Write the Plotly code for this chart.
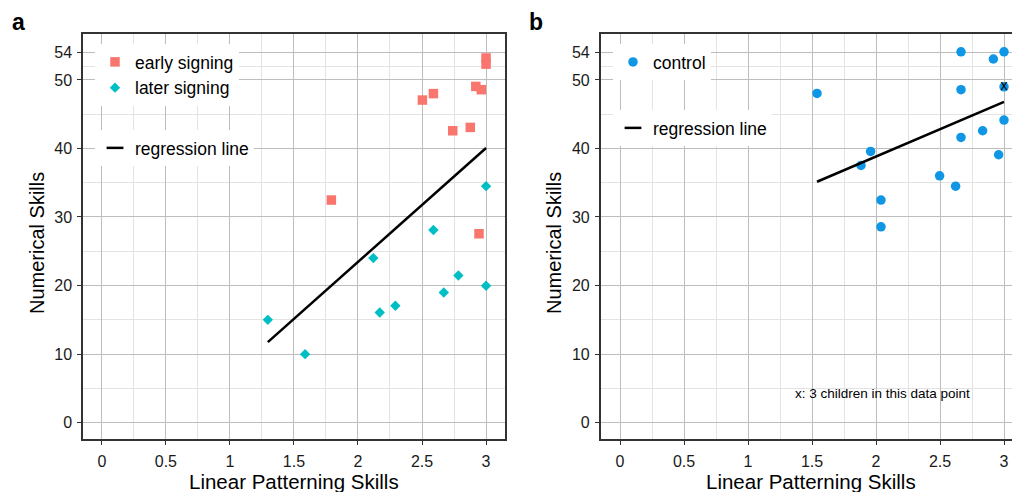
import plotly.graph_objects as go

# ---------------- data ----------------
early_x = [3.0, 3.0, 2.92, 2.963, 2.503, 2.589, 2.74, 2.877, 1.792, 2.945]
early_y = [53.2, 52.3, 49.05, 48.57, 47.06, 48.0, 42.58, 43.07, 32.47, 27.55]

later_x = [3.0, 2.589, 2.12, 2.784, 3.0, 2.67, 2.292, 2.17, 1.296, 1.587]
later_y = [34.5, 28.09, 24.0, 21.46, 19.96, 18.98, 17.04, 16.06, 14.99, 9.98]

reg_a_x = [1.296, 3.0]
reg_a_y = [11.74, 40.06]

control_x = [2.664, 3.0, 2.917, 1.539, 2.664, 3.0, 3.0, 2.833, 2.664, 1.958,
             1.883, 2.958, 2.497, 2.622, 2.039, 2.039]
control_y = [54.1, 54.1, 53.05, 48.03, 48.57, 49.0, 44.14, 42.58, 41.6, 39.56,
             37.52, 39.08, 36.0, 34.5, 32.46, 28.57]

reg_b_x = [1.539, 3.0]
reg_b_y = [35.14, 46.8]

multi_x = [3.0]
multi_y = [49.0]

x_ticks = [0, 0.5, 1, 1.5, 2, 2.5, 3]
x_ticktext = ["0", "0.5", "1", "1.5", "2", "2.5", "3"]
y_ticks = [0, 10, 20, 30, 40, 50, 54]
y_minor = [5, 15, 25, 35, 45, 52]

# ---------------- styling ----------------
FONT = "Liberation Sans, Arial, Helvetica, sans-serif"
RED = "#F8766D"
CYAN = "#00BFC4"
BLUE = "#0F97E5"
W, H = 1012, 492

fig = go.Figure()

# panel a
fig.add_trace(go.Scatter(x=early_x, y=early_y, mode="markers", name="early signing",
                         marker=dict(symbol="square", size=9.5, color=RED),
                         xaxis="x", yaxis="y", legend="legend"))
fig.add_trace(go.Scatter(x=later_x, y=later_y, mode="markers", name="later signing",
                         marker=dict(symbol="diamond", size=8, color=CYAN),
                         xaxis="x", yaxis="y", legend="legend"))
fig.add_trace(go.Scatter(x=reg_a_x, y=reg_a_y, mode="lines", showlegend=False,
                         line=dict(color="black", width=2.5), xaxis="x", yaxis="y"))
fig.add_trace(go.Scatter(x=[None], y=[None], mode="markers", name="regression line",
                         marker=dict(symbol="line-ew", size=12, color="black",
                                     line=dict(color="black", width=2.5)),
                         xaxis="x", yaxis="y", legend="legend2"))

# panel b
fig.add_trace(go.Scatter(x=control_x, y=control_y, mode="markers", name="control",
                         marker=dict(symbol="circle", size=9.5, color=BLUE),
                         xaxis="x2", yaxis="y2", legend="legend3"))
fig.add_trace(go.Scatter(x=reg_b_x, y=reg_b_y, mode="lines", showlegend=False,
                         line=dict(color="black", width=2.5), xaxis="x2", yaxis="y2"))
fig.add_trace(go.Scatter(x=[None], y=[None], mode="markers", name="regression line",
                         marker=dict(symbol="line-ew", size=12, color="black",
                                     line=dict(color="black", width=2.5)),
                         xaxis="x2", yaxis="y2", legend="legend4"))
fig.add_trace(go.Scatter(x=multi_x, y=multi_y, mode="text", text=["x"], showlegend=False,
                         textfont=dict(family=FONT, size=14, color="black"),
                         xaxis="x2", yaxis="y2"))

def px_x(p):
    return p / W

def px_y(p):
    return 1 - p / H

ydom = [px_y(439), px_y(34)]

common_x = dict(
    tickvals=x_ticks, ticktext=x_ticktext,
    showgrid=True, gridcolor="#BDBDBD", gridwidth=1,
    minor=dict(dtick=0.25, tick0=0, showgrid=True, gridcolor="#E3E3E3", gridwidth=1),
    zeroline=False, showline=True, mirror=True, linecolor="#333333", linewidth=1.5,
    ticks="outside", ticklen=4, tickcolor="#333333", tickwidth=1,
    tickfont=dict(family=FONT, size=16, color="#1a1a1a"),
    ticklabelstandoff=3,
)
common_y = dict(
    tickvals=y_ticks, range=[-2.4, 56.7], domain=ydom,
    showgrid=True, gridcolor="#BDBDBD", gridwidth=1,
    minor=dict(tickvals=y_minor, showgrid=True, gridcolor="#E3E3E3", gridwidth=1),
    zeroline=False, showline=True, linecolor="#333333", linewidth=1.5,
    ticks="outside", ticklen=4, tickcolor="#333333", tickwidth=1,
    tickfont=dict(family=FONT, size=16, color="#1a1a1a"),
    ticklabelstandoff=2,
)

legend_common = dict(bgcolor="white", borderwidth=0, xanchor="left", yanchor="top",
                     font=dict(family=FONT, size=17.5, color="black"),
                     xref="paper", yref="paper")

fig.update_layout(
    width=W, height=H,
    margin=dict(l=0, r=0, t=0, b=0),
    paper_bgcolor="white", plot_bgcolor="white",
    font=dict(family=FONT, color="black"),
    xaxis=dict(domain=[px_x(83), px_x(505)], range=[-0.147, 3.148], anchor="y", **common_x),
    yaxis=dict(anchor="x", mirror=True, **common_y),
    xaxis2=dict(domain=[px_x(600.7), 1.0], range=[-0.151, 3.0625], anchor="y2", **common_x),
    yaxis2=dict(anchor="x2", mirror=False, **common_y),
    legend=dict(x=px_x(95), y=px_y(44), **legend_common),
    legend2=dict(x=px_x(95), y=px_y(130), **legend_common),
    legend3=dict(x=px_x(613), y=px_y(44), **legend_common),
    legend4=dict(x=px_x(613), y=px_y(110), **legend_common),
    showlegend=True,
)

annotations = [
    dict(text="<b>a</b>", x=px_x(18), y=px_y(22), xref="paper", yref="paper",
         showarrow=False, font=dict(family=FONT, size=23, color="black"),
         xanchor="center", yanchor="middle"),
    dict(text="<b>b</b>", x=px_x(536), y=px_y(22), xref="paper", yref="paper",
         showarrow=False, font=dict(family=FONT, size=23, color="black"),
         xanchor="center", yanchor="middle"),
    dict(text="Linear Patterning Skills", x=px_x(294), y=px_y(481), xref="paper", yref="paper",
         showarrow=False, font=dict(family=FONT, size=20.5, color="black"),
         xanchor="center", yanchor="middle"),
    dict(text="Linear Patterning Skills", x=px_x(811), y=px_y(481), xref="paper", yref="paper",
         showarrow=False, font=dict(family=FONT, size=20.5, color="black"),
         xanchor="center", yanchor="middle"),
    dict(text="Numerical Skills", x=px_x(37), y=px_y(243), xref="paper", yref="paper",
         showarrow=False, textangle=-90, font=dict(family=FONT, size=20, color="black"),
         xanchor="center", yanchor="middle"),
    dict(text="Numerical Skills", x=px_x(554), y=px_y(243), xref="paper", yref="paper",
         showarrow=False, textangle=-90, font=dict(family=FONT, size=20, color="black"),
         xanchor="center", yanchor="middle"),
    dict(text="x: 3 children in this data point", x=2.05, y=4.3, xref="x2", yref="y2",
         showarrow=False, font=dict(family=FONT, size=13.5, color="black"),
         xanchor="center", yanchor="middle"),
]
fig.update_layout(annotations=annotations)

fig.write_html("out.html", config={"displayModeBar": False},
               post_script="document.body.style.margin='0';document.body.style.overflow='hidden';")
